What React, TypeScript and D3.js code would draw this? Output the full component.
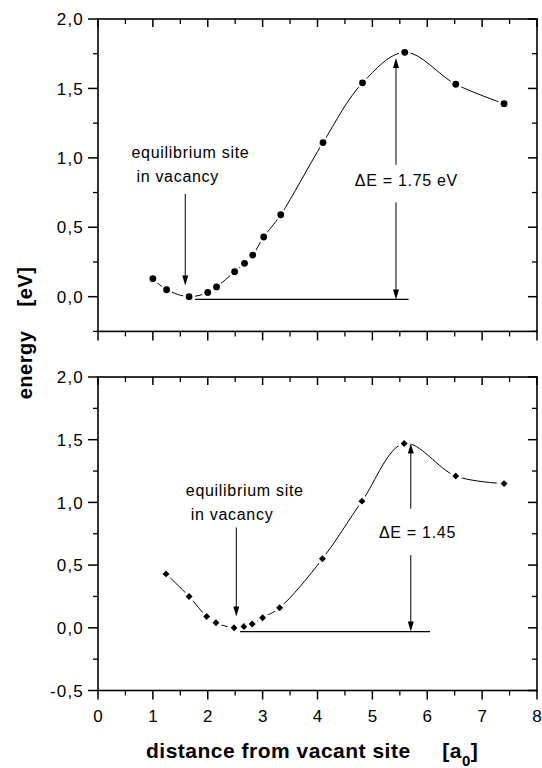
import * as d3 from 'd3';
import React from 'react';

// upper panel (circles)
const topDist = [1.0, 1.25, 1.66, 2.0, 2.16, 2.49, 2.67, 2.82, 3.02, 3.33, 4.1, 4.82, 5.59, 6.52, 7.4];
const topEnergy = [0.13, 0.05, 0.0, 0.03, 0.07, 0.18, 0.24, 0.3, 0.43, 0.59, 1.11, 1.54, 1.76, 1.53, 1.39];

// lower panel (diamonds)
const bottomDist = [1.24, 1.66, 1.98, 2.15, 2.48, 2.66, 2.81, 3.0, 3.31, 4.09, 4.81, 5.58, 6.52, 7.4];
const bottomEnergy = [0.43, 0.25, 0.09, 0.04, 0.0, 0.01, 0.03, 0.08, 0.16, 0.55, 1.01, 1.47, 1.21, 1.15];

// axis ticks
const xTicks = [0, 1, 2, 3, 4, 5, 6, 7, 8];
const topYTicks = [0, 0.5, 1.0, 1.5, 2.0];
const bottomYTicks = [-0.5, 0, 0.5, 1.0, 1.5, 2.0];

// annotations, in data units
const topNote = { label: 'ΔE = 1.75 eV', eqX: 1.59, eqFrom: 0.74, eqTo: 0.08, dx: 5.43, top: 1.72, gapHi: 0.95, gapLo: 0.68, base: -0.02, baseFrom: 1.77, baseTo: 5.66, textX: 4.68, textY: 0.8, eqTextX: 0.61, eqTextY: 1.0 };
const bottomNote = { label: 'ΔE = 1.45', eqX: 2.52, eqFrom: 0.8, eqTo: 0.09, dx: 5.7, top: 1.47, gapHi: 0.95, gapLo: 0.58, base: -0.03, baseFrom: 2.59, baseTo: 6.05, textX: 5.12, textY: 0.715, eqTextX: 1.6, eqTextY: 1.054 };

const FONT = '"Liberation Sans", Arial, Helvetica, sans-serif';
const LEFT = 98, RIGHT = 537;

const fmt = (v: number) => d3.format('.1f')(v).replace('.', ',').replace('−', '-');

function Arrow({ x1, y1, x2, y2 }: { x1: number; y1: number; x2: number; y2: number }) {
  // vertical arrows only, head at (x2, y2)
  const dir = y2 > y1 ? 1 : -1;
  const len = 10, hw = 3;
  return (
    <g>
      <line x1={x1} y1={y1} x2={x2} y2={y2 - dir * len * 0.8} stroke="#000" strokeWidth={1} />
      <path d={`M${x2},${y2} L${x2 - hw},${y2 - dir * len} L${x2 + hw},${y2 - dir * len} Z`} fill="#000" />
    </g>
  );
}

function Panel({ xs, ys, yDomain, yTicks, top, bottom, marker, note, showXLabels }: any) {
  const x = d3.scaleLinear().domain([0, 8]).range([LEFT, RIGHT]);
  const y = d3.scaleLinear().domain(yDomain).range([bottom, top]);
  const pts = xs.map((d: number, i: number) => [x(d), y(ys[i])] as [number, number]);
  const line = d3.line().curve(d3.curveCatmullRom.alpha(0.5))(pts) || '';

  const minorX = xTicks.slice(0, -1).map((t) => t + 0.5);
  const minorY = yTicks.slice(0, -1).map((t: number) => t + 0.25);
  if (yDomain[0] < yTicks[0]) minorY.unshift(yDomain[0]);

  const diamond = d3.symbol(d3.symbolSquare, 24)() || '';

  const txt = { fontFamily: FONT, fontSize: 16, letterSpacing: 0.7 };

  return (
    <g>
      {/* frame */}
      <rect x={LEFT} y={top} width={RIGHT - LEFT} height={bottom - top} fill="none" stroke="#000" strokeWidth={1.6} />
      {/* x ticks: bottom outward, top inward */}
      {xTicks.map((t) => (
        <g key={'xt' + t}>
          <line x1={x(t)} x2={x(t)} y1={bottom} y2={bottom + 9} stroke="#000" strokeWidth={1.5} />
          <line x1={x(t)} x2={x(t)} y1={top} y2={top + 8} stroke="#000" strokeWidth={1.5} />
          {showXLabels && (
            <text x={x(t)} y={bottom + 31} textAnchor="middle" style={{ fontFamily: FONT, fontSize: 17 }}>{t}</text>
          )}
        </g>
      ))}
      {minorX.map((t) => (
        <g key={'xm' + t}>
          <line x1={x(t)} x2={x(t)} y1={bottom} y2={bottom + 5} stroke="#000" strokeWidth={1.3} />
          <line x1={x(t)} x2={x(t)} y1={top} y2={top + 5} stroke="#000" strokeWidth={1.3} />
        </g>
      ))}
      {/* y ticks: left outward, right inward */}
      {yTicks.map((t: number) => (
        <g key={'yt' + t}>
          <line x1={LEFT - 10} x2={LEFT} y1={y(t)} y2={y(t)} stroke="#000" strokeWidth={1.5} />
          <line x1={RIGHT - 9} x2={RIGHT} y1={y(t)} y2={y(t)} stroke="#000" strokeWidth={1.5} />
          <text x={LEFT - 14} y={y(t)} dy="0.36em" textAnchor="end" style={{ fontFamily: FONT, fontSize: 17, letterSpacing: 1.2 }}>{fmt(t)}</text>
        </g>
      ))}
      {minorY.map((t: number) => (
        <g key={'ym' + t}>
          <line x1={LEFT - 5} x2={LEFT} y1={y(t)} y2={y(t)} stroke="#000" strokeWidth={1.3} />
          <line x1={RIGHT - 5} x2={RIGHT} y1={y(t)} y2={y(t)} stroke="#000" strokeWidth={1.3} />
        </g>
      ))}

      {/* curve */}
      <path d={line} fill="none" stroke="#000" strokeWidth={1} />
      {/* markers, with white halo to break the curve */}
      {pts.map(([px, py]: [number, number], i: number) =>
        marker === 'circle' ? (
          <g key={'m' + i}>
            <circle cx={px} cy={py} r={6} fill="#fff" />
            <circle cx={px} cy={py} r={3.4} fill="#000" />
          </g>
        ) : (
          <g key={'m' + i} transform={`translate(${px},${py}) rotate(45)`}>
            <rect x={-5.5} y={-5.5} width={11} height={11} fill="#fff" />
            <path d={diamond} fill="#000" />
          </g>
        )
      )}

      {/* annotations */}
      <text x={x(note.eqTextX)} y={y(note.eqTextY)} style={txt}>equilibrium site</text>
      <text x={x(note.eqTextX + 0.09)} y={y(note.eqTextY) + 24} style={txt}>in vacancy</text>
      <Arrow x1={x(note.eqX)} y1={y(note.eqFrom)} x2={x(note.eqX)} y2={y(note.eqTo)} />

      <line x1={x(note.baseFrom)} x2={x(note.baseTo)} y1={y(note.base)} y2={y(note.base)} stroke="#000" strokeWidth={1.2} />
      <Arrow x1={x(note.dx)} y1={y(note.gapHi)} x2={x(note.dx)} y2={y(note.top)} />
      <Arrow x1={x(note.dx)} y1={y(note.gapLo)} x2={x(note.dx)} y2={y(note.base)} />
      <text x={x(note.textX)} y={y(note.textY)} style={txt}>{note.label}</text>
    </g>
  );
}

export default function App() {
  return (
    <svg width={542} height={768} style={{ position: 'absolute', left: 0, top: 0, background: '#fff' }}>
      <rect width={542} height={768} fill="#fff" />
      <Panel xs={topDist} ys={topEnergy} yDomain={[-0.25, 2.0]} yTicks={topYTicks} top={19} bottom={331.4}
        marker="circle" note={topNote} showXLabels={false} />
      <Panel xs={bottomDist} ys={bottomEnergy} yDomain={[-0.5, 2.0]} yTicks={bottomYTicks} top={377} bottom={690.5}
        marker="diamond" note={bottomNote} showXLabels={true} />

      <text transform="translate(32,333) rotate(-90)" textAnchor="middle"
        style={{ fontFamily: FONT, fontSize: 20, fontWeight: 'bold', letterSpacing: 0.5 }}>
        energy{'\u00a0\u00a0\u00a0\u00a0'}[eV]
      </text>
      <text x={146} y={758} style={{ fontFamily: FONT, fontSize: 21, fontWeight: 'bold', letterSpacing: 0.5 }}>
        distance from vacant site{'\u00a0\u00a0\u00a0\u00a0\u00a0'}[a<tspan dy={8} fontSize={15}>0</tspan><tspan dy={-8}>]</tspan>
      </text>
    </svg>
  );
}
